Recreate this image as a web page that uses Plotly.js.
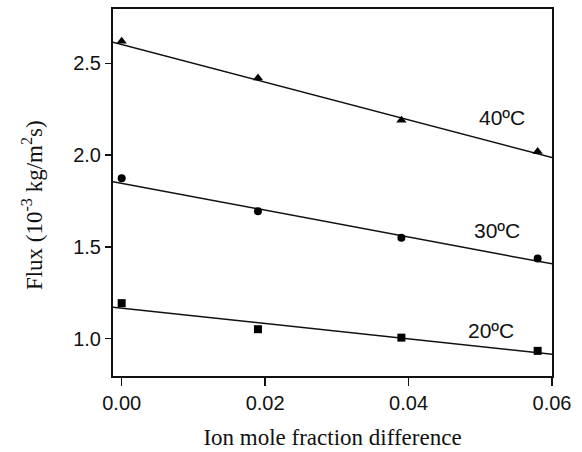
<!DOCTYPE html>
<html>
<head>
<meta charset="utf-8">
<script src="https://cdn.plot.ly/plotly-3.0.1.min.js"></script>
<style>html,body{margin:0;padding:0;background:#fff;}#chart{width:582px;height:452px;}</style>
</head>
<body>
<div id="chart"></div>
<script>
// Measured data
const xPoints = [0.000, 0.019, 0.039, 0.058];
const flux40 = [2.62, 2.42, 2.19, 2.02];
const flux30 = [1.873, 1.694, 1.549, 1.436];
const flux20 = [1.193, 1.051, 1.005, 0.933];

// Fitted lines, read at the plot's left and right edges
const fitX = [-0.00121, 0.06];
const fit40 = [2.615, 1.986];
const fit30 = [1.855, 1.407];
const fit20 = [1.171, 0.915];

const seriesLabels = ["40\u00BAC", "30\u00BAC", "20\u00BAC"];
const labelX = [0.053, 0.0523, 0.0515];
const labelY = [2.206, 1.589, 1.042];

const xTicks = [0.00, 0.02, 0.04, 0.06];
const xTickText = ["0.00", "0.02", "0.04", "0.06"];
const yTicks = [1.0, 1.5, 2.0, 2.5];
const yTickText = ["1.0", "1.5", "2.0", "2.5"];

const yTitle = "Flux (10<sup>-3</sup> kg/m<sup>2</sup>s)";
const xTitle = "Ion mole fraction difference";

const lineStyle = {color: "#111", width: 1.5};
const traces = [
  {x: fitX, y: fit40, mode: "lines", line: lineStyle},
  {x: fitX, y: fit30, mode: "lines", line: lineStyle},
  {x: fitX, y: fit20, mode: "lines", line: lineStyle},
  {x: xPoints, y: flux40, mode: "markers", marker: {symbol: "triangle-up", size: 9, color: "#000"}},
  {x: xPoints, y: flux30, mode: "markers", marker: {symbol: "circle", size: 8, color: "#000"}},
  {x: xPoints, y: flux20, mode: "markers", marker: {symbol: "square", size: 8, color: "#000"}}
];

const annotations = seriesLabels.map((t, i) => ({
  x: labelX[i], y: labelY[i], xref: "x", yref: "y", text: t, showarrow: false,
  font: {family: "Liberation Sans, Arial, sans-serif", size: 21, color: "#111"}
}));
annotations.push({
  x: -0.182, y: 0.466, xref: "paper", yref: "paper", text: yTitle, showarrow: false,
  textangle: -90, xanchor: "center", yanchor: "middle",
  font: {family: "Liberation Serif, Times New Roman, serif", size: 23, color: "#111"}
});

const layout = {
  width: 582, height: 452,
  margin: {l: 113, r: 30, t: 9, b: 76},
  paper_bgcolor: "#fff", plot_bgcolor: "#fff",
  showlegend: false,
  font: {family: "Liberation Sans, Arial, sans-serif", size: 20, color: "#111"},
  xaxis: {
    range: [-0.00121, 0.06], tickvals: xTicks, ticktext: xTickText,
    ticks: "outside", ticklen: 8, tickwidth: 1.5, tickcolor: "#111",
    showline: true, linecolor: "#111", linewidth: 2, mirror: true,
    showgrid: false, zeroline: false,
    tickfont: {size: 20},
    title: {text: xTitle, font: {family: "Liberation Serif, Times New Roman, serif", size: 23}, standoff: 16}
  },
  yaxis: {
    range: [0.796, 2.796], tickvals: yTicks, ticktext: yTickText,
    ticks: "outside", ticklen: 6, tickwidth: 1.5, tickcolor: "#111",
    showline: true, linecolor: "#111", linewidth: 2, mirror: true,
    showgrid: false, zeroline: false,
    tickfont: {size: 20}
  },
  annotations: annotations
};

Plotly.newPlot("chart", traces, layout, {displayModeBar: false, staticPlot: true});
</script>
</body>
</html>
